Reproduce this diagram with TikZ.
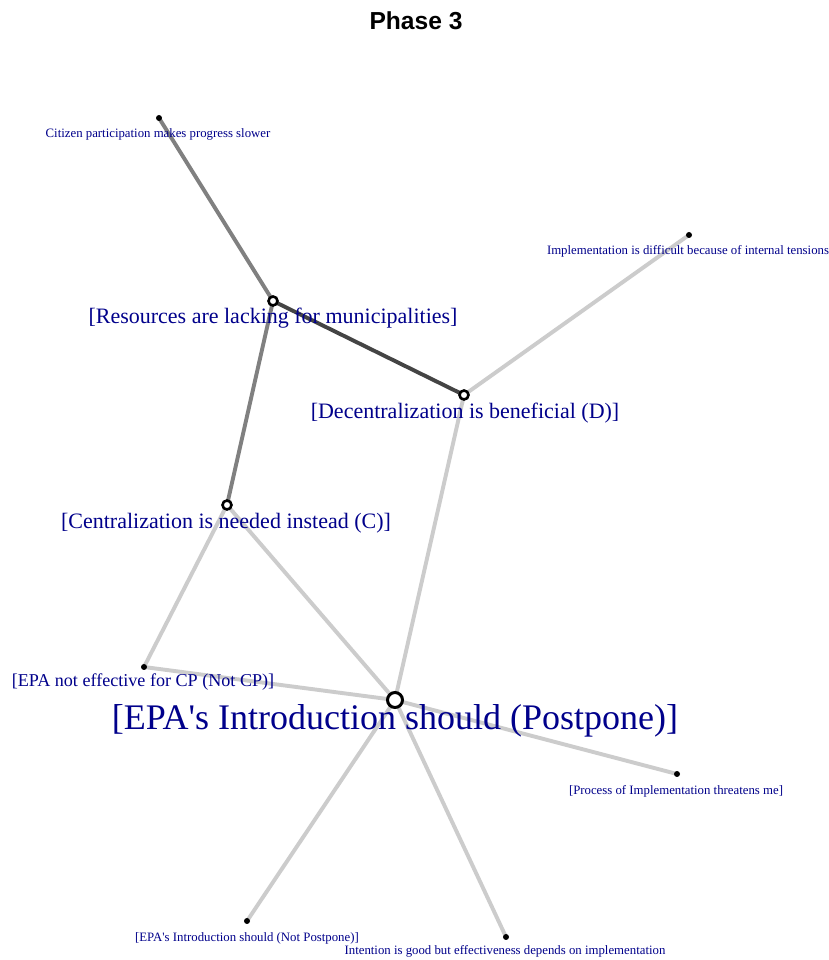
\documentclass[tikz,border=0pt]{standalone}
\usepackage{fontspec}
\setmainfont{Liberation Serif}
\newfontfamily\titlefont{Liberation Sans}
\definecolor{lblue}{RGB}{0,0,139}
\definecolor{elight}{RGB}{204,204,204}
\definecolor{emid}{RGB}{128,128,128}
\definecolor{edark}{RGB}{68,68,68}
\begin{document}
\begin{tikzpicture}[x=1pt,y=1pt,
  edgelight/.style={draw=elight,line width=3.9pt},
  edgemid/.style={draw=emid,line width=3.9pt},
  edgedark/.style={draw=edark,line width=3.9pt},
  smalldot/.style={circle,fill=black,inner sep=0pt,minimum size=6pt},
  ringv/.style={circle,draw=black,fill=white,line width=2.6pt,inner sep=0pt,minimum size=9pt},
  bigring/.style={circle,draw=black,fill=white,line width=3pt,inner sep=0pt,minimum size=15pt},
  lbl/.style={text=lblue,anchor=base,inner sep=0pt},
  lsmall/.style={lbl,font=\fontsize{12.8}{14}\selectfont},
  lmed/.style={lbl,font=\fontsize{22}{24}\selectfont},
  lnotcp/.style={lbl,font=\fontsize{18.1}{20}\selectfont},
  lbig/.style={lbl,font=\fontsize{36}{38}\selectfont}]
\useasboundingbox (0,0) rectangle (828,960);
\fill[white] (0,0) rectangle (828,960);
% vertex coordinates
\coordinate (cit) at (159,842);
\coordinate (imp) at (689,725);
\coordinate (res) at (273,659);
\coordinate (dec) at (464,565);
\coordinate (cen) at (227,455);
\coordinate (ncp) at (144,293);
\coordinate (pos) at (395,260);
\coordinate (pro) at (677,186);
\coordinate (npo) at (247,39);
\coordinate (int) at (506,23);
% edges
\draw[edgemid] (cit) -- (res);
\draw[edgemid] (res) -- (cen);
\draw[edgedark] (res) -- (dec);
\draw[edgelight] (dec) -- (imp);
\draw[edgelight] (dec) -- (pos);
\draw[edgelight] (cen) -- (ncp);
\draw[edgelight] (cen) -- (pos);
\draw[edgelight] (ncp) -- (pos);
\draw[edgelight] (pos) -- (pro);
\draw[edgelight] (pos) -- (npo);
\draw[edgelight] (pos) -- (int);
% vertices
\node[smalldot] (vcit) at (cit) {};
\node[smalldot] (vimp) at (imp) {};
\node[ringv] (vres) at (res) {};
\node[ringv] (vdec) at (dec) {};
\node[ringv] (vcen) at (cen) {};
\node[smalldot] (vncp) at (ncp) {};
\node[bigring] (vpos) at (pos) {};
\node[smalldot] (vpro) at (pro) {};
\node[smalldot] (vnpo) at (npo) {};
\node[smalldot] (vint) at (int) {};
% labels
\node[lsmall] (tcit) at (158,822.5) {Citizen participation makes progress slower};
\node[lsmall] (timp) at (688,705.5) {Implementation is difficult because of internal tensions};
\node[lmed] (tres) at (273,636.5) {[Resources are lacking for municipalities]};
\node[lmed] (tdec) at (465,541.5) {[Decentralization is beneficial (D)]};
\node[lmed] (tcen) at (226,431.5) {[Centralization is needed instead (C)]};
\node[lnotcp] (tncp) at (143,273) {[EPA not effective for CP (Not CP)]};
\node[lbig] (tpos) at (395,230.5) {[EPA\textquotesingle s Introduction should (Postpone)]};
\node[lsmall] (tpro) at (676,165.5) {[Process of Implementation threatens me]};
\node[lsmall] (tnpo) at (247,18.5) {[EPA\textquotesingle s Introduction should (Not Postpone)]};
\node[lsmall] (tint) at (505,5.5) {Intention is good but effectiveness depends on implementation};
% title
\node[anchor=base,inner sep=0pt,font=\titlefont\bfseries\fontsize{24.6}{26}\selectfont] (title) at (416,930) {Phase 3};
\end{tikzpicture}
\end{document}
